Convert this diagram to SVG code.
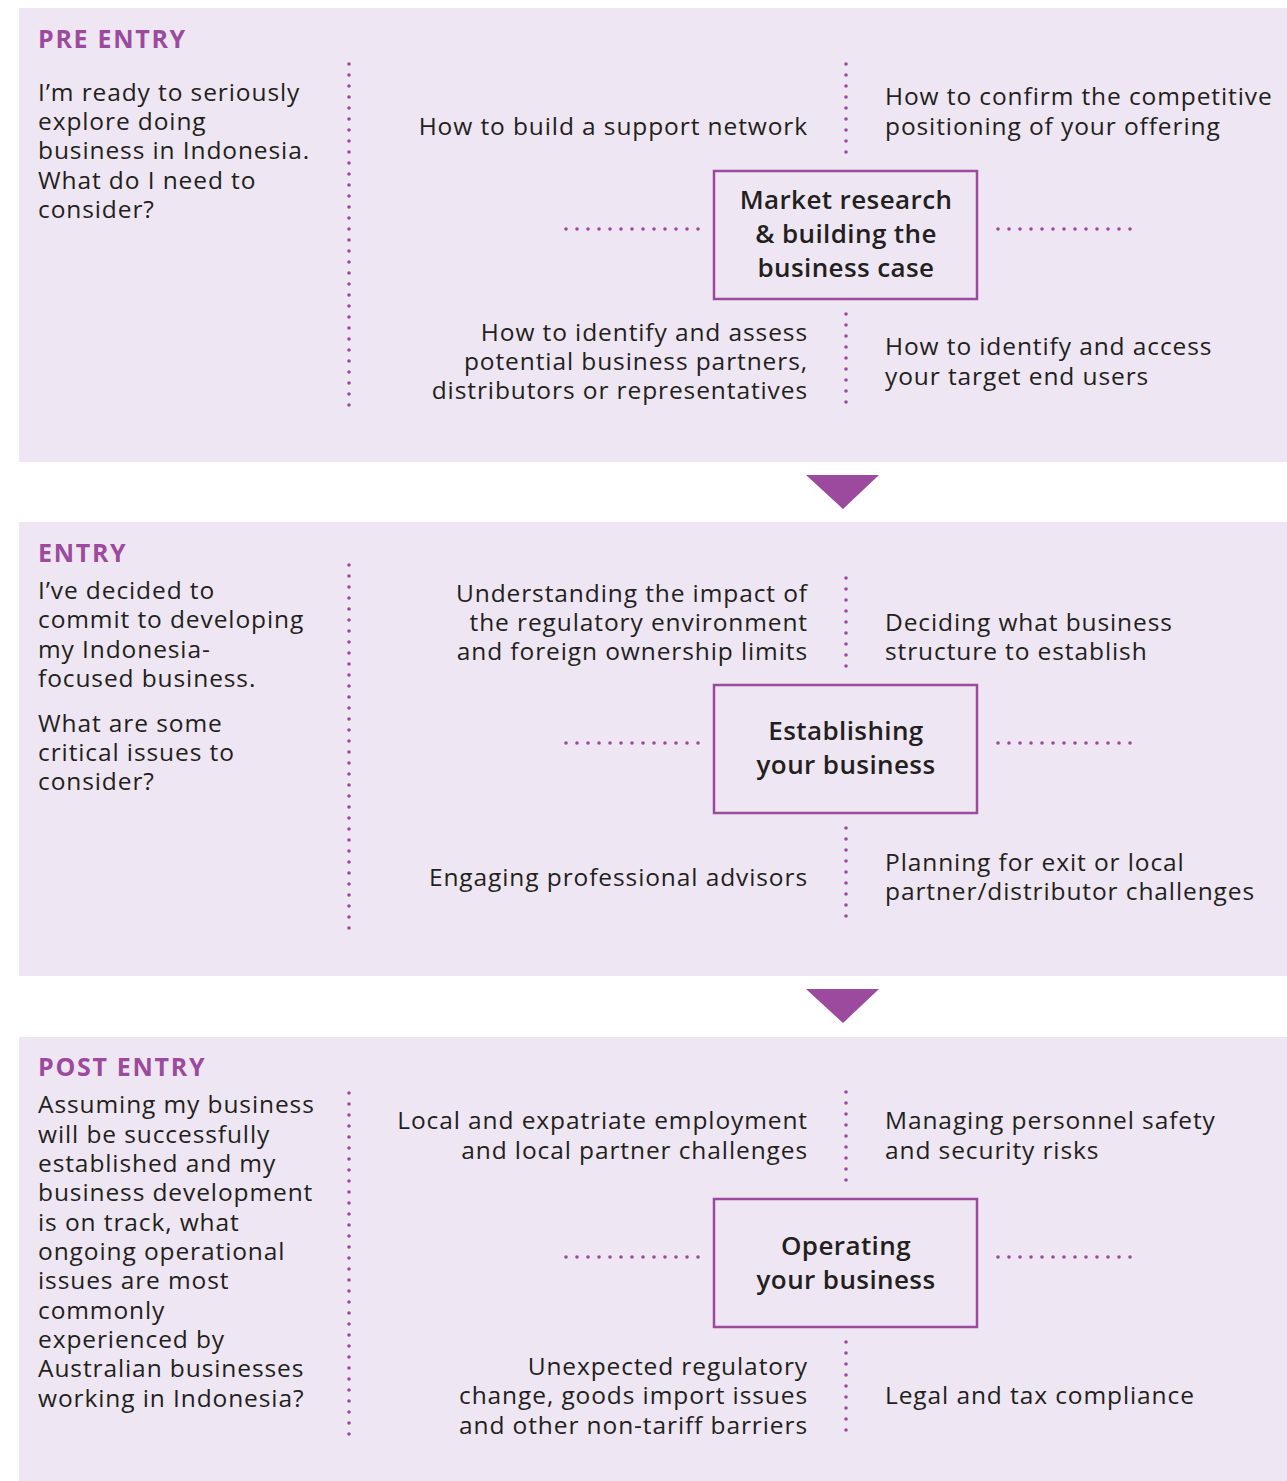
<svg xmlns="http://www.w3.org/2000/svg" width="1287" height="1481" viewBox="0 0 1287 1481">
<style>
.panel{fill:#EEE6F2}
.hd{font-family:"Open Sans","Liberation Sans",sans-serif;font-size:25px;font-weight:700;fill:#9C4A9E;letter-spacing:1.7px}
.t{font-family:"Open Sans","Liberation Sans",sans-serif;font-size:24.5px;fill:#231F20;letter-spacing:0.9px}
.r{text-anchor:end}
.bx{font-family:"Open Sans","Liberation Sans",sans-serif;font-size:26px;font-weight:600;fill:#231F20;text-anchor:middle;letter-spacing:0.4px}
.box{fill:none;stroke:#9C4A9E;stroke-width:2.5}
.dot{stroke:#9C4A9E;stroke-width:3.6;stroke-linecap:round;stroke-dasharray:0 11;fill:none}
.arr{fill:#9C4A9E}
</style>
<g id="panels">
<rect class="panel" x="19" y="8" width="1268" height="454"/>
<rect class="panel" x="19" y="522" width="1268" height="454"/>
<rect class="panel" x="19" y="1037" width="1268" height="444"/>
</g>
<g id="connectors">
<path class="dot" d="M349 64V407"/>
<path class="dot" d="M846 64V159"/>
<path class="dot" d="M846 314V409"/>
<path class="dot" d="M566 229H699"/>
<path class="dot" d="M998 229H1131"/>
<path class="dot" d="M349 565V935"/>
<path class="dot" d="M846 578V673"/>
<path class="dot" d="M846 828V923"/>
<path class="dot" d="M566 743H699"/>
<path class="dot" d="M998 743H1131"/>
<path class="dot" d="M349 1093V1438"/>
<path class="dot" d="M846 1092V1187"/>
<path class="dot" d="M846 1342V1437"/>
<path class="dot" d="M566 1257H699"/>
<path class="dot" d="M998 1257H1131"/>
<polygon class="arr" points="806,475 879,475 843,509"/>
<polygon class="arr" points="806,989 879,989 843,1023"/>
</g>
<g id="pre-entry">
<text class="hd" x="38" y="48">PRE ENTRY</text>
<text class="t" x="38"><tspan x="38" y="101">I’m ready to seriously</tspan><tspan x="38" y="130">explore doing</tspan><tspan x="38" y="159">business in Indonesia.</tspan><tspan x="38" y="189">What do I need to</tspan><tspan x="38" y="218">consider?</tspan></text>
</g>
<g id="pre-support">
<text class="t r" x="808" y="135">How to build a support network</text>
</g>
<g id="pre-competitive">
<text class="t"><tspan x="885" y="105">How to confirm the competitive</tspan><tspan x="885" y="135">positioning of your offering</tspan></text>
</g>
<g id="pre-box">
<rect class="box" x="714" y="171" width="263" height="128"/>
<text class="bx"><tspan x="846" y="209">Market research</tspan><tspan x="846" y="243">&amp; building the</tspan><tspan x="846" y="277">business case</tspan></text>
</g>
<g id="pre-partners">
<text class="t r"><tspan x="808" y="341">How to identify and assess</tspan><tspan x="808" y="370">potential business partners,</tspan><tspan x="808" y="399">distributors or representatives</tspan></text>
</g>
<g id="pre-users">
<text class="t"><tspan x="885" y="355">How to identify and access</tspan><tspan x="885" y="385">your target end users</tspan></text>
</g>
<g id="entry">
<text class="hd" x="38" y="562">ENTRY</text>
<text class="t"><tspan x="38" y="599">I’ve decided to</tspan><tspan x="38" y="628">commit to developing</tspan><tspan x="38" y="658">my Indonesia-</tspan><tspan x="38" y="687">focused business.</tspan><tspan x="38" y="732">What are some</tspan><tspan x="38" y="761">critical issues to</tspan><tspan x="38" y="790">consider?</tspan></text>
</g>
<g id="entry-regulatory">
<text class="t r"><tspan x="808" y="602">Understanding the impact of</tspan><tspan x="808" y="631">the regulatory environment</tspan><tspan x="808" y="660">and foreign ownership limits</tspan></text>
</g>
<g id="entry-structure">
<text class="t"><tspan x="885" y="631">Deciding what business</tspan><tspan x="885" y="660">structure to establish</tspan></text>
</g>
<g id="entry-box">
<rect class="box" x="714" y="685" width="263" height="128"/>
<text class="bx"><tspan x="846" y="740">Establishing</tspan><tspan x="846" y="774">your business</tspan></text>
</g>
<g id="entry-advisors">
<text class="t r" x="808" y="886">Engaging professional advisors</text>
</g>
<g id="entry-exit">
<text class="t"><tspan x="885" y="871">Planning for exit or local</tspan><tspan x="885" y="900">partner/distributor challenges</tspan></text>
</g>
<g id="post-entry">
<text class="hd" x="38" y="1076">POST ENTRY</text>
<text class="t"><tspan x="38" y="1113">Assuming my business</tspan><tspan x="38" y="1143">will be successfully</tspan><tspan x="38" y="1172">established and my</tspan><tspan x="38" y="1201">business development</tspan><tspan x="38" y="1231">is on track, what</tspan><tspan x="38" y="1260">ongoing operational</tspan><tspan x="38" y="1289">issues are most</tspan><tspan x="38" y="1319">commonly</tspan><tspan x="38" y="1348">experienced by</tspan><tspan x="38" y="1377">Australian businesses</tspan><tspan x="38" y="1407">working in Indonesia?</tspan></text>
</g>
<g id="post-employment">
<text class="t r"><tspan x="808" y="1129">Local and expatriate employment</tspan><tspan x="808" y="1159">and local partner challenges</tspan></text>
</g>
<g id="post-safety">
<text class="t"><tspan x="885" y="1129">Managing personnel safety</tspan><tspan x="885" y="1159">and security risks</tspan></text>
</g>
<g id="post-box">
<rect class="box" x="714" y="1199" width="263" height="128"/>
<text class="bx"><tspan x="846" y="1255">Operating</tspan><tspan x="846" y="1289">your business</tspan></text>
</g>
<g id="post-regulatory">
<text class="t r"><tspan x="808" y="1375">Unexpected regulatory</tspan><tspan x="808" y="1404">change, goods import issues</tspan><tspan x="808" y="1434">and other non-tariff barriers</tspan></text>
</g>
<g id="post-legal">
<text class="t" x="885" y="1404">Legal and tax compliance</text>
</g>
</svg>
